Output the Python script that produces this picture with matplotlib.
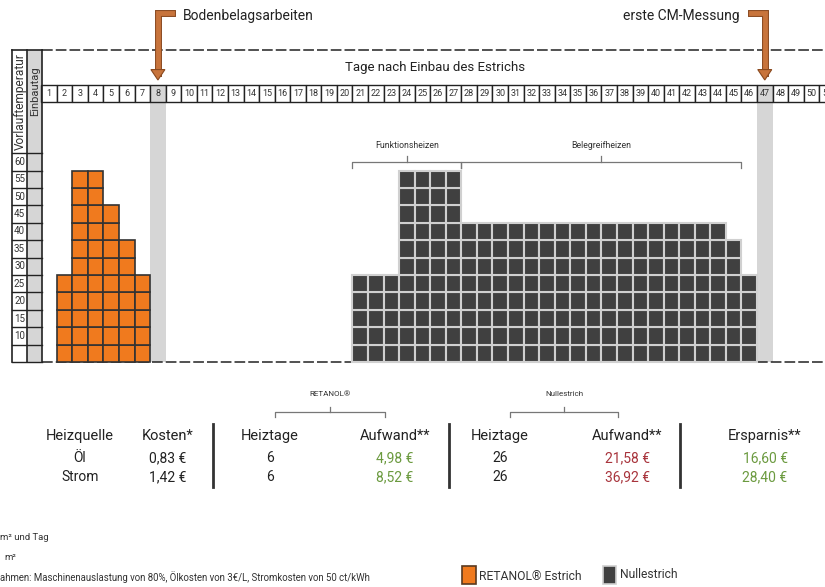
import numpy as np
import matplotlib.pyplot as plt
from matplotlib.patches import Rectangle, Polygon
import matplotlib.patheffects as pe

plt.rcParams["font.family"] = ["Roboto", "DejaVu Sans"]

# -- Data ----------------------------------------------------------------------

days = list(range(1, 52))
retanol_days = [2, 3, 4, 5, 6, 7]
retanol_temp = [25, 55, 55, 45, 35, 25]
null_days = list(range(21, 47))
null_temp = [25, 25, 25, 55, 55, 55, 55] + [40] * 17 + [35, 25]
temp_labels = [10, 15, 20, 25, 30, 35, 40, 45, 50, 55, 60]
marker_days = [8, 47]
marker_texts = ["Bodenbelagsarbeiten", "erste CM-Messung"]

table_cols = ["Heizquelle", "Kosten*", "Heiztage", "Aufwand**", "Heiztage", "Aufwand**", "Ersparnis**"]
sources = ["Öl", "Strom"]
kosten = ["0,83 €", "1,42 €"]
ret_tage = ["6", "6"]
ret_aufwand = ["4,98 €", "8,52 €"]
null_tage = ["26", "26"]
null_aufwand = ["21,58 €", "36,92 €"]
ersparnis = ["16,60 €", "28,40 €"]

ORANGE = "#f07a1e"
DARK = "#404040"
LIGHT = "#d6d6d6"
ARROW = "#c8743c"
GREEN = "#6b9a3f"
RED = "#a8343c"

# -- Figure: one axes, x = day, y = temperature -----------------------------

W, H = 825, 587
X0, DX = 49.0, 15.56      # pixel centre of day 1, pixels per day
Y0, DY = 362.0, 3.48      # pixel of 0 °C, pixels per °C


def px(x, y):
    return 1 + (x - X0) / DX, (Y0 - y) / DY


fig = plt.figure(figsize=(W / 100, H / 100), dpi=100)
ax = fig.add_axes([0, 0, 1, 1])
ax.set_xlim(px(0, 0)[0], px(W, 0)[0])
ax.set_ylim(px(0, H)[1], px(0, 0)[1])
ax.axis("off")

top_t = px(0, 50)[1]
row_hi, row_lo = px(0, 85)[1], px(0, 102)[1]
x_end = px(W, 0)[0]

# highlight bands
for d in marker_days:
    ax.add_patch(Rectangle((d - 0.5, 0), 1, row_lo, facecolor=LIGHT, edgecolor="none", zorder=1))

# top dashed line and baseline
ax.plot([0.55, x_end], [top_t, top_t], color="#222", lw=1.1, ls=(0, (7, 2)), zorder=2)
ax.plot([0.55, x_end], [0, 0], color="#222", lw=1.1, ls=(0, (7, 2)), zorder=2)

# day row
for d in days:
    fc = LIGHT if d in marker_days else "white"
    ax.add_patch(Rectangle((d - 0.5, row_lo), 1, row_hi - row_lo, facecolor=fc,
                           edgecolor="#222", lw=1.0, zorder=3))
    ax.text(d, (row_lo + row_hi) / 2, str(d), ha="center", va="center", fontsize=6.5,
            color="#333", zorder=4)
ax.text(px(435, 0)[0], px(0, 67)[1], "Tage nach Einbau des Estrichs", ha="center",
        va="center", fontsize=9.5, color="#222")

# left panel
c0, c1, c2 = px(12, 0)[0], px(27, 0)[0], px(42, 0)[0]
ax.add_patch(Rectangle((c1, 0), c2 - c1, top_t, facecolor=LIGHT, edgecolor="none", zorder=2))
for xx in (c0, c1, c2):
    ax.plot([xx, xx], [0, top_t], color="#222", lw=1.2, zorder=3)
ax.plot([c0, c2], [top_t, top_t], color="#222", lw=1.2, zorder=3)
for t in range(0, 65, 5):
    ax.plot([c0, c2], [t, t], color="#222", lw=1.0, zorder=3)
for t in temp_labels:
    ax.text((c0 + c1) / 2, t - 2.5, str(t), ha="center", va="center", fontsize=7,
            color="#333", zorder=4)
head = Rectangle((c0, 60), c1 - c0, top_t - 60, facecolor="none", edgecolor="none")
ax.add_patch(head)
vt = ax.text((c0 + c1) / 2 + 0.05, 61, "Vorlauftemperatur", rotation=90, ha="center",
             va="bottom", fontsize=8.6, color="#333", zorder=4)
vt.set_clip_path(head)
ax.text((c1 + c2) / 2 + 0.05, row_lo + 3.2, "Einbautag", rotation=90, ha="center",
        va="center", fontsize=8, color="#333", zorder=4)

# cells
for d, t in zip(retanol_days, retanol_temp):
    for k in range(t // 5):
        ax.add_patch(Rectangle((d - 0.5, 5 * k), 1, 5, facecolor=ORANGE,
                               edgecolor="#333", lw=1.2, zorder=5))
for d, t in zip(null_days, null_temp):
    for k in range(t // 5):
        ax.add_patch(Rectangle((d - 0.5, 5 * k), 1, 5, facecolor=DARK,
                               edgecolor="#d0d0d0", lw=1.5, zorder=5))

# arrows for milestones
for d, txt in zip(marker_days, marker_texts):
    y_top, y_tip = px(0, 13)[1], px(0, 80)[1]
    hook = 0.9 if d == marker_days[0] else -0.9
    ax.plot([d + hook, d, d], [y_top, y_top, y_tip + 2], color=ARROW, lw=3.5,
            solid_joinstyle="miter", zorder=6,
            path_effects=[pe.Stroke(linewidth=5, foreground="#8a4a20"), pe.Normal()])
    ax.add_patch(Polygon([[d - 0.45, y_tip + 3], [d + 0.45, y_tip + 3], [d, y_tip]],
                         closed=True, facecolor=ARROW, edgecolor="#8a4a20", lw=0.8, zorder=7))
    if d == marker_days[0]:
        ax.text(px(183, 0)[0], px(0, 16)[1], txt, ha="left", va="center", fontsize=10, color="#222")
    else:
        ax.text(px(740, 0)[0], px(0, 16)[1], txt, ha="right", va="center", fontsize=10, color="#222")


def bracket(x1, x2, y, label, fs, ly):
    h = 1.6 if fs > 6 else 1.3
    ax.plot([x1, x1, x2, x2], [y - h, y, y, y - h], color="#777", lw=0.9, zorder=4)
    xm = (x1 + x2) / 2
    ax.plot([xm, xm], [y, y + h], color="#777", lw=0.9, zorder=4)
    ax.text(xm, ly, label, ha="center", va="center", fontsize=fs, color="#333")


# phase brackets above the Nullestrich cells
bracket(20.5, 27.5, px(0, 162)[1], "Funktionsheizen", 6.3, px(0, 146)[1])
bracket(27.5, 45.5, px(0, 162)[1], "Belegreifheizen", 6.3, px(0, 146)[1])

# -- Cost table ----------------------------------------------------------------

col_x = [80, 168, 270, 395, 500, 627, 765]
hy, r1, r2 = 436, 458, 477
for cx, name in zip(col_x, table_cols):
    ax.text(*px(cx, hy), name, ha="center", va="center", fontsize=10.5, color="#222")
rows = [sources, kosten, ret_tage, ret_aufwand, null_tage, null_aufwand, ersparnis]
colors = ["#222", "#222", "#222", GREEN, "#222", RED, GREEN]
for cx, vals, col in zip(col_x, rows, colors):
    for ry, v in zip((r1, r2), vals):
        ax.text(*px(cx, ry), v, ha="center", va="center", fontsize=10, color=col)
for sx in (213, 449, 680):
    ax.plot([px(sx, 0)[0]] * 2, [px(0, 424)[1], px(0, 487)[1]], color="#333", lw=2)

bracket(px(275, 0)[0], px(385, 0)[0], px(0, 412)[1], "RETANOL®", 5.8, px(0, 394)[1])
bracket(px(510, 0)[0], px(618, 0)[0], px(0, 412)[1], "Nullestrich", 5.8, px(0, 394)[1])

# footnotes (cut at the left edge)
ax.text(*px(0, 537), "m² und Tag", ha="left", va="center", fontsize=6.8, color="#333")
ax.text(*px(4, 557), "m²", ha="left", va="center", fontsize=6.8, color="#333")
ax.text(*px(0, 577), "ahmen: Maschinenauslastung von 80%, Ölkosten von 3€/L, Stromkosten von 50 ct/kWh",
        ha="left", va="center", fontsize=6.9, color="#333")

# legend
lx0, ly0 = px(462, 584)
lx1, ly1 = px(476, 566)
ax.add_patch(Rectangle((lx0, ly0), lx1 - lx0, ly1 - ly0, facecolor=ORANGE, edgecolor="#5a3a20", lw=1.2))
ax.text(*px(479, 576), "RETANOL® Estrich", ha="left", va="center", fontsize=8.7, color="#333")
gx0, gy0 = px(603, 584)
gx1, gy1 = px(616, 566)
ax.add_patch(Rectangle((gx0, gy0), gx1 - gx0, gy1 - gy0, facecolor=DARK, edgecolor="#cfcfcf", lw=1.2))
ax.text(*px(620, 575), "Nullestrich", ha="left", va="center", fontsize=8.7, color="#333")

fig.savefig("out.png", dpi=100)
